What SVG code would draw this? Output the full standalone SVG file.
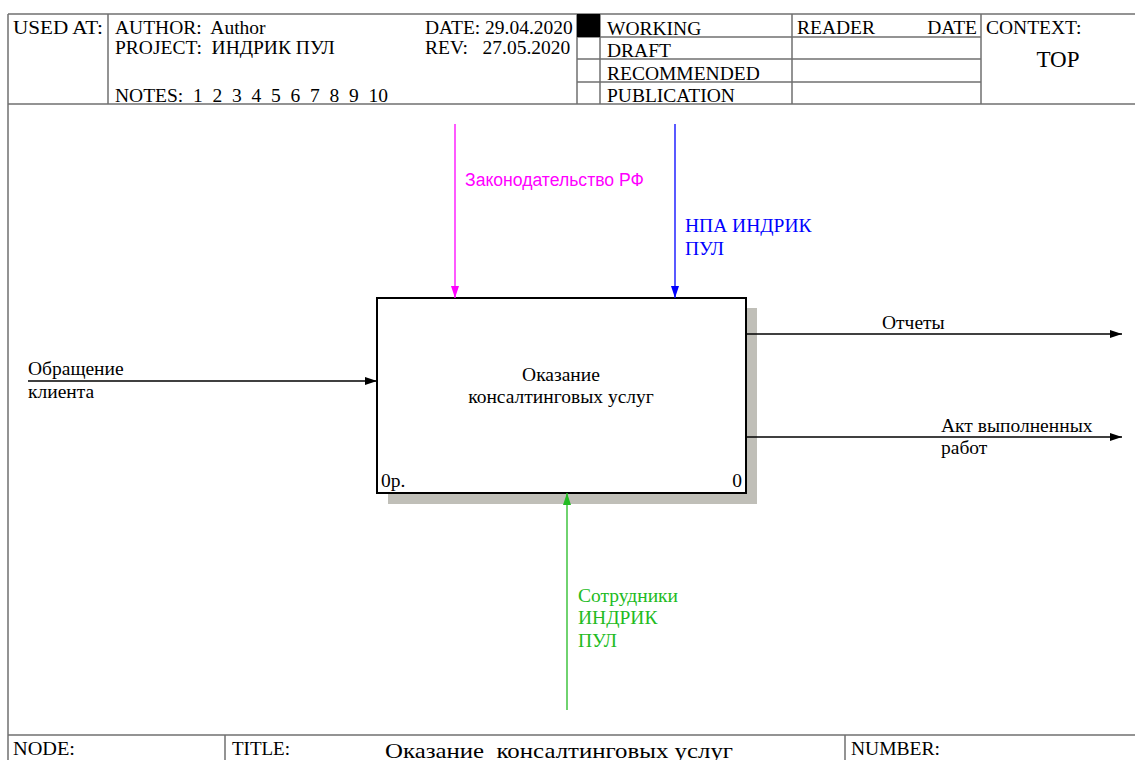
<svg xmlns="http://www.w3.org/2000/svg" width="1135" height="760" viewBox="0 0 1135 760">
<defs>
<style>
.t{font-family:"Liberation Serif","Times New Roman",serif;font-size:19.5px;fill:#000;white-space:pre}
.s{font-family:"Liberation Sans",Arial,sans-serif;font-size:17.6px}
.frame{stroke:#707070;stroke-width:1.5;fill:none}
.ln{stroke-width:1.3;fill:none}
</style>
<marker id="ak" markerWidth="12" markerHeight="8" refX="12" refY="4" orient="auto" markerUnits="userSpaceOnUse"><path d="M0,0 L12,4 L0,8 Z" fill="#000"/></marker>
<marker id="am" markerWidth="12" markerHeight="8" refX="12" refY="4" orient="auto" markerUnits="userSpaceOnUse"><path d="M0,0 L12,4 L0,8 Z" fill="#ff00ff"/></marker>
<marker id="ab" markerWidth="12" markerHeight="8" refX="12" refY="4" orient="auto" markerUnits="userSpaceOnUse"><path d="M0,0 L12,4 L0,8 Z" fill="#0000ff"/></marker>
<marker id="ag" markerWidth="12" markerHeight="8" refX="12" refY="4" orient="auto" markerUnits="userSpaceOnUse"><path d="M0,0 L12,4 L0,8 Z" fill="#22bb22"/></marker>
</defs>
<rect width="1135" height="760" fill="#fff"/>
<g id="frame">
<path class="frame" d="M8,14 H1135 M8,104 H1135 M8,14 V760 M8,735 H1135"/>
<path class="frame" d="M108,14 V104 M577,14 V104 M600,14 V104 M792,14 V104 M981,14 V104"/>
<path class="frame" d="M577,37 H981 M577,59 H981 M577,82 H981"/>
<rect x="577" y="14" width="23" height="23" fill="#000"/>
<path class="frame" d="M225,735 V760 M845,735 V760"/>
<text class="t" x="13" y="34" textLength="90" lengthAdjust="spacingAndGlyphs">USED AT:</text>
<text class="t" x="115" y="34">AUTHOR:  Author</text>
<text class="t" x="115" y="54">PROJECT:  ИНДРИК ПУЛ</text>
<text class="t" x="115" y="102">NOTES:  1  2  3  4  5  6  7  8  9  10</text>
<text class="t" x="425" y="34">DATE: 29.04.2020</text>
<text class="t" x="425" y="54">REV:   27.05.2020</text>
<text class="t" x="607" y="35">WORKING</text>
<text class="t" x="607" y="57">DRAFT</text>
<text class="t" x="607" y="80">RECOMMENDED</text>
<text class="t" x="607" y="102">PUBLICATION</text>
<text class="t" x="797" y="34">READER</text>
<text class="t" x="977" y="34" text-anchor="end">DATE</text>
<text class="t" x="986" y="34">CONTEXT:</text>
<text class="t" x="1058" y="67" text-anchor="middle" style="font-size:23px">TOP</text>
<text class="t" x="13" y="755" textLength="62" lengthAdjust="spacingAndGlyphs">NODE:</text>
<text class="t" x="232" y="755" textLength="58" lengthAdjust="spacingAndGlyphs">TITLE:</text>
<text class="t" x="385" y="758" style="font-size:22px" textLength="348" lengthAdjust="spacingAndGlyphs">Оказание  консалтинговых услуг</text>
<text class="t" x="851" y="755" textLength="89" lengthAdjust="spacingAndGlyphs">NUMBER:</text>
</g>
<g id="node-A0">
<rect x="388" y="308" width="369" height="196" fill="#c0bfb8"/>
<rect x="377" y="298" width="369" height="195" fill="#fff" stroke="#000" stroke-width="2"/>
<text class="t" x="561" y="381" text-anchor="middle">Оказание</text>
<text class="t" x="561" y="403" text-anchor="middle">консалтинговых услуг</text>
<text class="t" x="381" y="487">0р.</text>
<text class="t" x="742" y="487" text-anchor="end">0</text>
</g>
<g id="connectors">
<path class="ln" stroke="#000" d="M28,381 H377" marker-end="url(#ak)"/>
<path class="ln" stroke="#ff00ff" d="M455,124 V298" marker-end="url(#am)"/>
<path class="ln" stroke="#0000ff" d="M675,124 V298" marker-end="url(#ab)"/>
<path class="ln" stroke="#22bb22" d="M567,710 V493" marker-end="url(#ag)"/>
<path class="ln" stroke="#000" d="M746,334 H1122" marker-end="url(#ak)"/>
<path class="ln" stroke="#000" d="M746,437 H1122" marker-end="url(#ak)"/>
<text class="t" x="28" y="375">Обращение</text>
<text class="t" x="28" y="398">клиента</text>
<text class="s" x="465" y="186" fill="#ff00ff">Законодательство РФ</text>
<text class="t" x="685" y="232" style="fill:#0000ff">НПА ИНДРИК</text>
<text class="t" x="685" y="255" style="fill:#0000ff">ПУЛ</text>
<text class="t" x="578" y="602" style="fill:#22bb22">Сотрудники</text>
<text class="t" x="578" y="624" style="fill:#22bb22">ИНДРИК</text>
<text class="t" x="578" y="647" style="fill:#22bb22">ПУЛ</text>
<text class="t" x="882" y="329">Отчеты</text>
<text class="t" x="941" y="432">Акт выполненных</text>
<text class="t" x="941" y="454">работ</text>
</g>
</svg>
